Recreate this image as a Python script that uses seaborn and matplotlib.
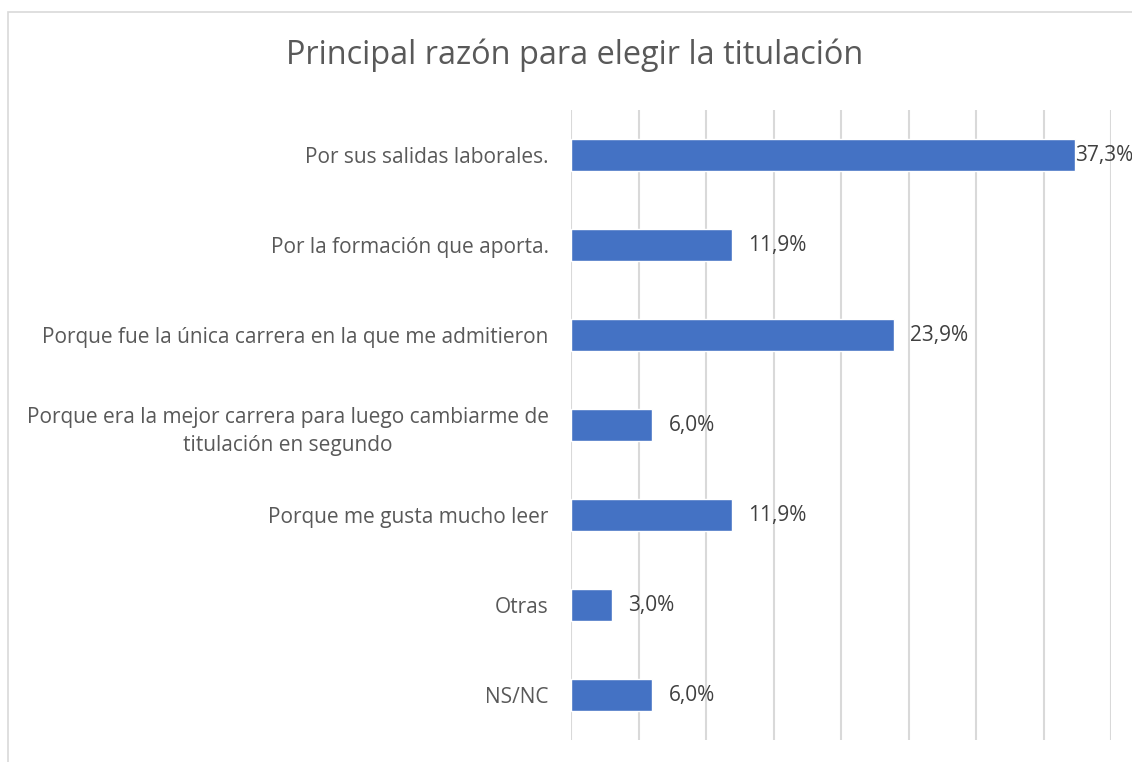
import matplotlib
matplotlib.use("Agg")
import matplotlib.pyplot as plt
import seaborn as sns
import pandas as pd
from matplotlib.patches import Rectangle

categories = [
    "Por sus salidas laborales.",
    "Por la formación que aporta.",
    "Porque fue la única carrera en la que me admitieron",
    "Porque era la mejor carrera para luego cambiarme de\ntitulación en segundo",
    "Porque me gusta mucho leer",
    "Otras",
    "NS/NC",
]
values = [37.3, 11.9, 23.9, 6.0, 11.9, 3.0, 6.0]
value_labels = ["37,3%", "11,9%", "23,9%", "6,0%", "11,9%", "3,0%", "6,0%"]
title = "Principal razón para elegir la titulación"

sns.set_theme(style="white")
plt.rcParams["font.family"] = ["Open Sans", "DejaVu Sans"]

df = pd.DataFrame({"cat": categories, "val": values})

W, H = 1132, 762
fig = plt.figure(figsize=(W / 100, H / 100), dpi=100)
ax = fig.add_axes([571 / W, 1 - 740 / H, (1111 - 571) / W, (740 - 110) / H])

sns.barplot(data=df, y="cat", x="val", color="#4472C4", width=0.36,
            saturation=1, ax=ax, orient="h")

ax.set_xlim(0, 40)
ax.set_ylim(6.5, -0.5)
ax.set_xticks(range(0, 41, 5))
ax.xaxis.grid(True, color="#D9D9D9", linewidth=1.5)
ax.yaxis.grid(False)
ax.set_axisbelow(True)
ax.set_xticklabels([])
for s in ax.spines.values():
    s.set_visible(False)
ax.set_xlabel("")
ax.set_ylabel("")
ax.tick_params(axis="y", length=0, pad=16, labelsize=15.0, labelcolor="#595959")
ax.tick_params(axis="x", length=0)
for lab in ax.get_yticklabels():
    lab.set_multialignment("center")
    lab.set_linespacing(1.5)

for i, (v, t) in enumerate(zip(values, value_labels)):
    off = 0.5 if v > 35 else 12
    ax.annotate(t, xy=(v, i), xytext=(off, 0), textcoords="offset points",
                ha="left", va="center", fontsize=15.0, color="#404040",
                annotation_clip=False)

fig.text(575 / W, 1 - 55 / H, title, ha="center", va="center",
         fontsize=23.4, color="#595959")

fig.patches.append(Rectangle((7.5 / W, -0.1), 1.2, 1 - 11.5 / H + 0.1,
                             transform=fig.transFigure, fill=False,
                             edgecolor="#D9D9D9", linewidth=1.2))

fig.savefig("out.png", dpi=100)
